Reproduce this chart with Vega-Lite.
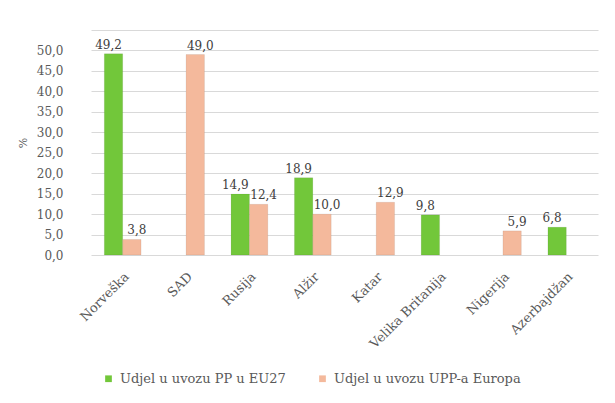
{
  "$schema": "https://vega.github.io/schema/vega-lite/v6.json",
  "width": 507,
  "height": 225,
  "autosize": "none",
  "padding": {"left": 91, "top": 30, "right": 17, "bottom": 148},
  "background": "white",
  "config": {
    "locale": {"number": {"decimal": ",", "thousands": ".", "grouping": [3], "currency": ["", ""]}},
    "view": {"stroke": null},
    "font": "DejaVu Serif"
  },
  "data": {
    "values": [
      {"zemlja": "Norveška", "serija": "Udjel u uvozu PP u EU27", "vrijednost": 49.2},
      {"zemlja": "Norveška", "serija": "Udjel u uvozu UPP-a Europa", "vrijednost": 3.8},
      {"zemlja": "SAD", "serija": "Udjel u uvozu UPP-a Europa", "vrijednost": 49.0},
      {"zemlja": "Rusija", "serija": "Udjel u uvozu PP u EU27", "vrijednost": 14.9},
      {"zemlja": "Rusija", "serija": "Udjel u uvozu UPP-a Europa", "vrijednost": 12.4},
      {"zemlja": "Alžir", "serija": "Udjel u uvozu PP u EU27", "vrijednost": 18.9},
      {"zemlja": "Alžir", "serija": "Udjel u uvozu UPP-a Europa", "vrijednost": 10.0},
      {"zemlja": "Katar", "serija": "Udjel u uvozu UPP-a Europa", "vrijednost": 12.9},
      {"zemlja": "Velika Britanija", "serija": "Udjel u uvozu PP u EU27", "vrijednost": 9.8},
      {"zemlja": "Nigerija", "serija": "Udjel u uvozu UPP-a Europa", "vrijednost": 5.9},
      {"zemlja": "Azerbajdžan", "serija": "Udjel u uvozu PP u EU27", "vrijednost": 6.8}
    ]
  },
  "encoding": {
    "x": {
      "field": "zemlja",
      "type": "nominal",
      "sort": ["Norveška", "SAD", "Rusija", "Alžir", "Katar", "Velika Britanija", "Nigerija", "Azerbajdžan"],
      "scale": {"paddingInner": 0.42, "paddingOuter": 0.21},
      "axis": {
        "title": null,
        "labelAngle": -45,
        "labelFont": "DejaVu Serif",
        "labelFontSize": 13,
        "labelColor": "#595959",
        "domain": false,
        "ticks": false,
        "labelPadding": 15
      }
    },
    "xOffset": {
      "field": "serija",
      "type": "nominal",
      "scale": {"domain": ["Udjel u uvozu PP u EU27", "Udjel u uvozu UPP-a Europa"]}
    },
    "y": {
      "field": "vrijednost",
      "type": "quantitative",
      "scale": {"domain": [0, 55], "nice": false},
      "axis": {
        "title": "%",
        "titleFont": "DejaVu Serif",
        "titleFontSize": 11,
        "titleFontWeight": "normal",
        "titleColor": "#595959",
        "titlePadding": 8,
        "values": [0, 5, 10, 15, 20, 25, 30, 35, 40, 45, 50, 55],
        "labelExpr": "datum.value > 50 ? '' : format(datum.value, '.1f')",
        "labelFont": "DejaVu Serif",
        "labelFontSize": 12,
        "labelColor": "#595959",
        "domain": false,
        "ticks": false,
        "labelPadding": 28,
        "gridColor": "#D9D9D9",
        "gridWidth": 1
      }
    }
  },
  "layer": [
    {
      "mark": {"type": "bar", "stroke": "#00000022", "strokeWidth": 0.5},
      "encoding": {
        "color": {
          "field": "serija",
          "type": "nominal",
          "scale": {
            "domain": ["Udjel u uvozu PP u EU27", "Udjel u uvozu UPP-a Europa"],
            "range": ["#72C73A", "#F4B99C"]
          },
          "legend": {
            "title": null,
            "orient": "none",
            "direction": "horizontal",
            "legendX": 11,
            "legendY": 342,
            "symbolType": "square",
            "symbolSize": 45,
            "symbolStrokeWidth": 0,
            "labelFont": "DejaVu Serif",
            "labelFontSize": 13,
            "labelColor": "#595959",
            "columnPadding": 30,
            "labelOffset": 5,
            "labelLimit": 300
          }
        }
      }
    },
    {
      "transform": [{"filter": "datum.serija === 'Udjel u uvozu PP u EU27'"}],
      "mark": {"type": "text", "dy": -9, "dx": -5, "font": "DejaVu Serif", "fontSize": 12, "color": "#404040"},
      "encoding": {
        "text": {"field": "vrijednost", "type": "quantitative", "format": ".1f"}
      }
    },
    {
      "transform": [{"filter": "datum.serija === 'Udjel u uvozu UPP-a Europa'"}],
      "mark": {"type": "text", "dy": -9, "dx": 5, "font": "DejaVu Serif", "fontSize": 12, "color": "#404040"},
      "encoding": {
        "text": {"field": "vrijednost", "type": "quantitative", "format": ".1f"}
      }
    }
  ]
}
